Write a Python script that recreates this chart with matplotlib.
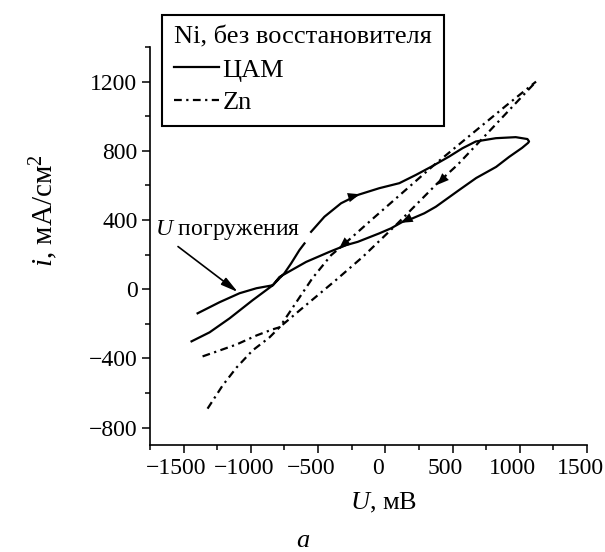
'''
    ЦАМ / Zn, Ni без восстановителя
'''
import numpy as np
from matplotlib import pyplot as plt
from matplotlib import transforms

plt.rcParams['font.family'] = ['Liberation Serif', 'DejaVu Serif']
plt.rcParams['mathtext.fontset'] = 'custom'
plt.rcParams['mathtext.rm'] = 'Liberation Serif'
plt.rcParams['mathtext.it'] = 'Liberation Serif:italic'
plt.rcParams['font.size'] = 17

nan = np.nan

# ЦАМ (сплошная) - одна петля, с разрывом у подписи
cam_u = [-1441, -1307, -1158, -988, -837, -750, -700, -639, -601, nan,
         -552, -453, -329, -205, -45, 104, 228, 351, 475, 574, 673, 822,
         970, 1057, 1069, 1062, 1017, 921, 824, 676, 550, 376, 290, 203,
         129, 42, -45, -205, -292, -416, -589, -787, -837, -958, -1084,
         -1233, -1396]
cam_i = [-301, -249, -168, -64, 23, 93, 150, 226, 265, nan,
         332, 419, 497, 545, 584, 613, 661, 712, 767, 815, 854, 873,
         879, 868, 854, 846, 817, 765, 707, 643, 574, 477, 439, 410,
         390, 352, 323, 274, 255, 216, 158, 71, 23, 6, -23,
         -75, -139]

# Zn (штрихпунктир)
zn1_u = [-1359, -1233, -1106, -958, -839, -787, -650, -542, -403, -329,
         -100, 150, 364, 650, 900, 1121]
zn1_i = [-388, -354, -319, -267, -232, -220, -61, 64, 197, 245,
         403, 573, 719, 902, 1062, 1200]
zn2_u = [-1322, -1210, -1106, -988, -861, -787, -600, -372, -168, 79,
         129, 388, 537, 772, 1121]
zn2_i = [-690, -556, -452, -354, -278, -220, -98, 50, 187, 371,
         410, 613, 719, 912, 1200]

# стрелки направления развертки (хвост, голова)
arrows = [((-260, 533), (-190, 549)),
          ((175, 407), (115, 384)),
          ((-290, 272), (-345, 234)),
          ((440, 645), (385, 603))]

fig = plt.figure(figsize=(6.05, 5.52), dpi=100)
ax = fig.add_axes([150/605, 1-445/552, 437/605, 398/552])

dash = (0, (3.5, 2.0, 1.0, 2.0))
l1, = ax.plot(cam_u, cam_i, color='black', lw=1.6)
l2, = ax.plot(zn1_u, zn1_i, color='black', lw=1.6, linestyle=dash)
ax.plot(zn2_u, zn2_i, color='black', lw=1.6, linestyle=dash)

for tail, head in arrows:
    ax.annotate('', xy=head, xytext=tail,
                arrowprops=dict(arrowstyle='-|>,head_length=0.5,head_width=0.2',
                                color='black', lw=0.01, shrinkA=0, shrinkB=0))

# U погружения
ax.annotate('$U$ погружения', xy=(-1097, -16), xytext=(-1715, 342),
            va='center', ha='left', fontsize=17,
            arrowprops=dict(arrowstyle='-|>,head_length=0.6,head_width=0.15',
                            color='black', lw=1.2, shrinkA=2, shrinkB=0,
                            relpos=(0.12, 0.0)))

# Оси
ax.set_xlim(-1750, 1500)
ax.set_ylim(-900, 1400)
ax.set_xticks([-1500, -1000, -500, 0, 500, 1000, 1500])
ax.set_xticks(np.arange(-1750, 1501, 250), minor=True)
ax.set_yticks([-800, -400, 0, 400, 800, 1200])
ax.set_yticks(np.arange(-800, 1401, 200), minor=True)
ax.spines['top'].set_visible(False)
ax.spines['right'].set_visible(False)
for s in ['left', 'bottom']:
    ax.spines[s].set_linewidth(1.2)
ax.tick_params(which='major', length=6, width=1.1, pad=3, labelsize=17)
ax.tick_params(which='minor', length=3.5, width=1.1)

# подписи по x немного сдвинуты влево, как в оригинале
shift = transforms.ScaledTranslation(-7/100, 0, fig.dpi_scale_trans)
for lab in ax.get_xticklabels():
    lab.set_transform(lab.get_transform() + shift)

ax.set_xlabel('$U$, мВ', fontsize=19)
ax.xaxis.set_label_coords(0.535, -0.115)
ax.set_ylabel('$i$, мА/см$^{\\mathrm{2}}$', fontsize=21)
ax.yaxis.set_label_coords(-0.205, 0.59)

fig.text(303/605, 1-541/552, '$a$', ha='center', va='center', fontsize=19)

leg = fig.legend([l1, l2], ['ЦАМ', 'Zn'], title='Ni, без восстановителя',
                 loc='upper left', bbox_to_anchor=(162/605, 1-15/552),
                 alignment='left', fontsize=19, title_fontsize=19,
                 fancybox=False, framealpha=1, edgecolor='black',
                 borderpad=0.45, borderaxespad=0, handlelength=1.7,
                 handletextpad=0.15, labelspacing=0.35)
leg.get_frame().set_linewidth(1.5)

fig.savefig('out.png', dpi=100)
